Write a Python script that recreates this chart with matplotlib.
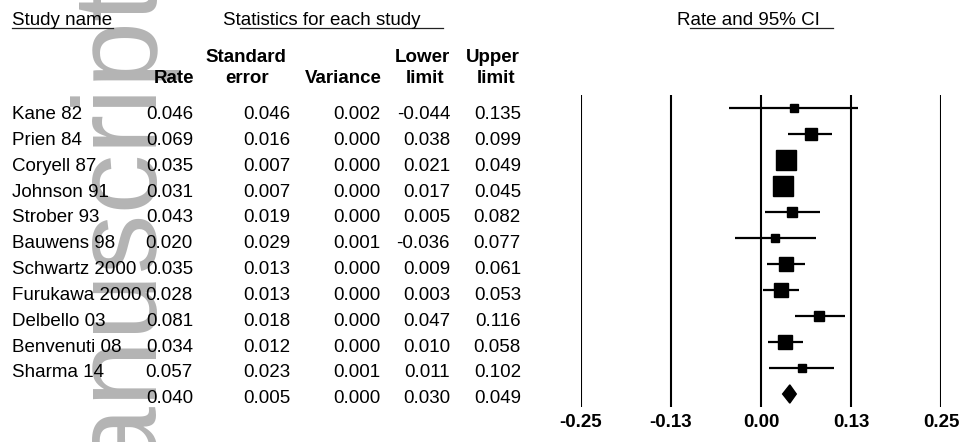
import matplotlib
matplotlib.use('Agg')
import matplotlib.pyplot as plt
import numpy as np

plt.rcParams['font.family'] = ['Liberation Sans', 'DejaVu Sans']

# per-study rates (random effects meta-analysis)
studies = ['Kane 82', 'Prien 84', 'Coryell 87', 'Johnson 91', 'Strober 93', 'Bauwens 98',
           'Schwartz 2000', 'Furukawa 2000', 'Delbello 03', 'Benvenuti 08', 'Sharma 14']
rate = [0.046, 0.069, 0.035, 0.031, 0.043, 0.020, 0.035, 0.028, 0.081, 0.034, 0.057]
se = [0.046, 0.016, 0.007, 0.007, 0.019, 0.029, 0.013, 0.013, 0.018, 0.012, 0.023]
variance = [0.002, 0.000, 0.000, 0.000, 0.000, 0.001, 0.000, 0.000, 0.000, 0.000, 0.001]
lower = [-0.044, 0.038, 0.021, 0.017, 0.005, -0.036, 0.009, 0.003, 0.047, 0.010, 0.011]
upper = [0.135, 0.099, 0.049, 0.045, 0.082, 0.077, 0.061, 0.053, 0.116, 0.058, 0.102]

# pooled estimate
sum_rate = 0.040
sum_se = 0.005
sum_var = 0.000
sum_lower = 0.030
sum_upper = 0.049

ticks = [-0.25, -0.125, 0.0, 0.125, 0.25]
tick_labels = ['-0.25', '-0.13', '0.00', '0.13', '0.25']

W, H = 960, 442
fig = plt.figure(figsize=(W / 100, H / 100), dpi=100)
fs = 13.5


def fx(px):
    return px / W


def fy(py):
    return 1 - py / H


# watermark behind the table
fig.text(fx(147), fy(270), 'Manuscript', rotation=90, rotation_mode='anchor',
         ha='center', va='baseline', fontsize=86, color='#b4b4b4', zorder=-1)

# headers
fig.text(fx(12), fy(25), 'Study name', fontsize=fs, ha='left', va='baseline')
fig.text(fx(223), fy(25), 'Statistics for each study', fontsize=fs, ha='left', va='baseline')
fig.text(fx(677), fy(25), 'Rate and 95% CI', fontsize=fs, ha='left', va='baseline')
for x0, x1 in [(12, 113), (240, 443), (690, 833)]:
    fig.add_artist(plt.Line2D([fx(x0), fx(x1)], [fy(28), fy(28)], color='#222222', lw=0.9))

fig.text(fx(194), fy(83), 'Rate', fontsize=fs, weight='bold', ha='right', va='baseline')
fig.text(fx(246), fy(62), 'Standard', fontsize=fs, weight='bold', ha='center', va='baseline')
fig.text(fx(247), fy(83), 'error', fontsize=fs, weight='bold', ha='center', va='baseline')
fig.text(fx(382), fy(83), 'Variance', fontsize=fs, weight='bold', ha='right', va='baseline')
fig.text(fx(422), fy(62), 'Lower', fontsize=fs, weight='bold', ha='center', va='baseline')
fig.text(fx(425), fy(83), 'limit', fontsize=fs, weight='bold', ha='center', va='baseline')
fig.text(fx(493), fy(62), 'Upper', fontsize=fs, weight='bold', ha='center', va='baseline')
fig.text(fx(496), fy(83), 'limit', fontsize=fs, weight='bold', ha='center', va='baseline')

# table body
cols = [193, 290, 380, 450, 521]
n = len(studies)
for i in range(n + 1):
    yb = fy(119.3 + 25.8 * i)
    if i < n:
        vals = [rate[i], se[i], variance[i], lower[i], upper[i]]
        fig.text(fx(12), yb, studies[i], fontsize=fs, ha='left', va='baseline')
    else:
        vals = [sum_rate, sum_se, sum_var, sum_lower, sum_upper]
    for c, v in zip(cols, vals):
        fig.text(fx(c), yb, '%.3f' % v, fontsize=fs, ha='right', va='baseline')

# forest plot
ax = fig.add_axes([fx(581), fy(407), 360 / W, 312 / H])
ax.patch.set_visible(False)
for t in ticks:
    ax.axvline(t, color='black', lw=1.5, zorder=1)

y = np.arange(n)
ax.hlines(y, lower, upper, color='black', lw=1.6, zorder=2)
side = np.maximum(8.5, 0.637 * (1 / np.array(se)) ** 0.7)
for i in range(n):
    ax.plot(rate[i], y[i], 's', color='black', markersize=side[i] * 0.72, zorder=3)

h = 0.35
ax.fill([sum_lower, sum_rate, sum_upper, sum_rate], [n, n - h, n, n + h], color='black', zorder=3)

ax.set_xlim(-0.25, 0.25)
ax.set_ylim(n + 0.5, -0.5)
ax.set_xticks(ticks, tick_labels)
ax.set_yticks([])
ax.tick_params(axis='x', length=0, pad=5, labelsize=fs)
for lab in ax.get_xticklabels():
    lab.set_fontweight('bold')
for s in ax.spines.values():
    s.set_visible(False)

plt.savefig('out.png', dpi=100)
